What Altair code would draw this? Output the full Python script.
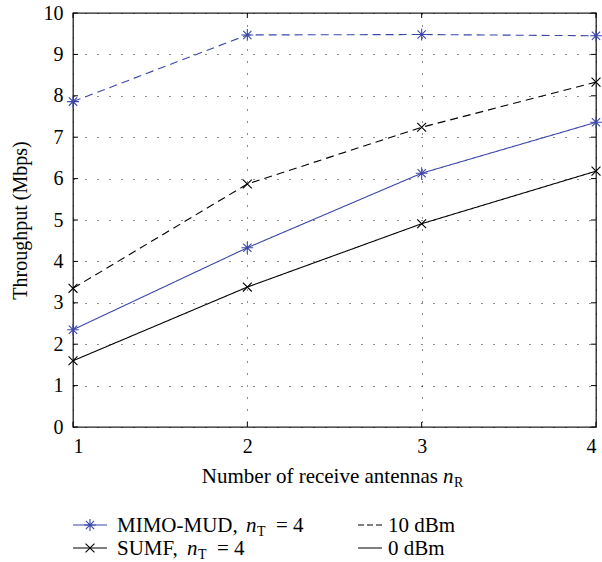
import altair as alt
import pandas as pd

# ---- data ----
antennas = [1, 2, 3, 4]
mud_10dbm = [7.86, 9.47, 9.48, 9.45]
sumf_10dbm = [3.35, 5.87, 7.24, 8.33]
mud_0dbm = [2.35, 4.33, 6.13, 7.36]
sumf_0dbm = [1.60, 3.38, 4.91, 6.18]

schemes = ["MIMO-MUD", "SUMF"]
powers = ["10 dBm", "0 dBm"]
x_ticks = [1, 2, 3, 4]
y_ticks = [0, 1, 2, 3, 4, 5, 6, 7, 8, 9, 10]

y_title = "Throughput (Mbps)"
x_title_main = "Number of receive antennas"
x_title_var = "n"
x_title_sub = "R"
leg_mud = "MIMO-MUD,"
leg_sumf = "SUMF,"
leg_var = "n"
leg_sub = "T"
leg_eq = "= 4"

FONT = "Liberation Serif"
BLUE = "#3b47a8"
ASTERISK = "M-1,0L1,0M0,-1L0,1M-0.7,-0.7L0.7,0.7M-0.7,0.7L0.7,-0.7"
XMARK = "M-0.75,-0.75L0.75,0.75M-0.75,0.75L0.75,-0.75"

W, H = 523, 414

rows = []
for scheme, power, vals in [
    ("MIMO-MUD", "10 dBm", mud_10dbm),
    ("SUMF", "10 dBm", sumf_10dbm),
    ("MIMO-MUD", "0 dBm", mud_0dbm),
    ("SUMF", "0 dBm", sumf_0dbm),
]:
    for a, v in zip(antennas, vals):
        rows.append({"antennas": a, "throughput": v, "scheme": scheme,
                     "power": power, "series": scheme + " " + power})
df = pd.DataFrame(rows)

xs = alt.Scale(domain=[1, 4], nice=False, zero=False)
ys = alt.Scale(domain=[0, 10], nice=False)
color_scale = alt.Scale(domain=schemes, range=[BLUE, "#000000"])
dash_scale = alt.Scale(domain=powers, range=[[8, 5], [1, 0]])
shape_scale = alt.Scale(domain=schemes, range=[ASTERISK, XMARK])

base = alt.Chart(df)

lines = base.mark_line(strokeWidth=1.1).encode(
    x=alt.X("antennas:Q", scale=xs,
            axis=alt.Axis(values=x_ticks, format="d", title=None, ticks=False,
                          domain=False, labelPadding=9, grid=True)),
    y=alt.Y("throughput:Q", scale=ys,
            axis=alt.Axis(values=y_ticks, format="d", title=y_title, ticks=False,
                          domain=False, labelPadding=10, grid=True,
                          titleX=-53, titleY=H / 2, titleAngle=270,
                          titleAlign="center", titleBaseline="middle")),
    color=alt.Color("scheme:N", scale=color_scale, legend=None),
    strokeDash=alt.StrokeDash("power:N", scale=dash_scale, legend=None),
    detail="series:N",
)

points = base.mark_point(filled=False, size=140, strokeWidth=1.1, opacity=1).encode(
    x=alt.X("antennas:Q", scale=xs),
    y=alt.Y("throughput:Q", scale=ys),
    color=alt.Color("scheme:N", scale=color_scale, legend=None),
    shape=alt.Shape("scheme:N", scale=shape_scale, legend=None),
)

# inward ticks on all four sides
xt = pd.DataFrame({"v": x_ticks})
yt = pd.DataFrame({"v": y_ticks})
tick_style = dict(color="#000", strokeWidth=1)
xticks_b = alt.Chart(xt).mark_rule(**tick_style).encode(
    x=alt.X("v:Q", scale=xs), y=alt.value(H), y2=alt.value(H - 5))
xticks_t = alt.Chart(xt).mark_rule(**tick_style).encode(
    x=alt.X("v:Q", scale=xs), y=alt.value(0), y2=alt.value(5))
yticks_l = alt.Chart(yt).mark_rule(**tick_style).encode(
    y=alt.Y("v:Q", scale=ys), x=alt.value(0), x2=alt.value(5))
yticks_r = alt.Chart(yt).mark_rule(**tick_style).encode(
    y=alt.Y("v:Q", scale=ys), x=alt.value(W), x2=alt.value(W - 5))


def txt(s, x, y, size=21, style="normal", align="left", baseline="alphabetic"):
    return alt.Chart(pd.DataFrame({"t": [s]})).mark_text(
        font=FONT, fontSize=size, fontStyle=style, align=align,
        baseline=baseline, color="#000"
    ).encode(text="t:N", x=alt.value(x), y=alt.value(y))


def seg(x1, x2, y, color, dash):
    return alt.Chart(pd.DataFrame({"t": [0]})).mark_rule(
        color=color, strokeWidth=1.1, strokeDash=dash
    ).encode(x=alt.value(x1), x2=alt.value(x2), y=alt.value(y))


def marker(x, y, shape, color):
    return alt.Chart(pd.DataFrame({"t": [0]})).mark_point(
        shape=shape, filled=False, size=140, strokeWidth=1.1, color=color, opacity=1
    ).encode(x=alt.value(x), y=alt.value(y))


# x-axis title with italic variable and subscript
xt_y = 470
x_title = [
    txt(x_title_main, 365, xt_y, align="right"),
    txt(x_title_var, 370, xt_y, style="italic"),
    txt(x_title_sub, 381, xt_y + 4, size=14),
]

LS = 21
r1, r2 = 512, 535
legend = [
    seg(0, 34, r1, BLUE, [1, 0]), marker(17, r1, ASTERISK, BLUE),
    txt(leg_mud, 44, r1 + 7, size=LS),
    txt(leg_var, 173, r1 + 7, size=LS, style="italic"),
    txt(leg_sub, 184, r1 + 11, size=14),
    txt(leg_eq, 203, r1 + 7, size=LS),
    seg(0, 34, r2, "#000", [1, 0]), marker(17, r2, XMARK, "#000"),
    txt(leg_sumf, 44, r2 + 7, size=LS),
    txt(leg_var, 114, r2 + 7, size=LS, style="italic"),
    txt(leg_sub, 125, r2 + 11, size=14),
    txt(leg_eq, 144, r2 + 7, size=LS),
    seg(285, 309, r1, "#000", [6, 3]),
    txt(powers[0], 315, r1 + 7, size=LS),
    seg(285, 309, r2, "#000", [1, 0]),
    txt(powers[1], 315, r2 + 7, size=LS),
]

chart = alt.layer(
    lines, points, xticks_b, xticks_t, yticks_l, yticks_r, *x_title, *legend
).properties(
    width=W, height=H,
    padding={"left": 73, "top": 13, "right": 6, "bottom": 135},
    autosize=alt.AutoSizeParams(type="none"),
    background="white",
).configure_view(
    stroke="#222", strokeWidth=1.3
).configure_axis(
    labelFont=FONT, labelFontSize=20, labelColor="#000",
    titleFont=FONT, titleFontSize=20, titleFontWeight="normal", titleColor="#000",
    gridColor="#000", gridDash=[1, 11], gridWidth=1, gridOpacity=0.9,
)

chart.save("out.html", embed_options={"renderer": "svg", "actions": False})
